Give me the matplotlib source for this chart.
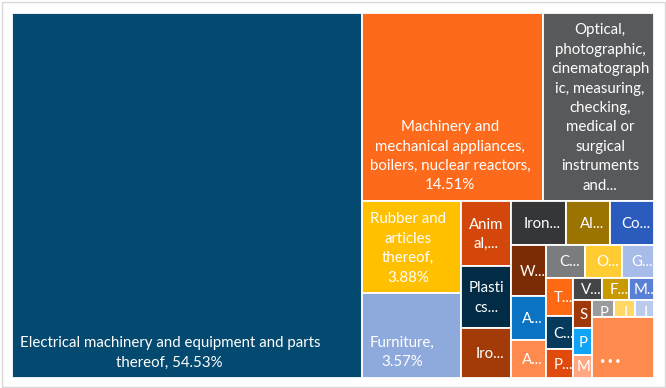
import matplotlib
matplotlib.use("Agg")
import matplotlib.pyplot as plt
from matplotlib.patches import Rectangle

plt.rcParams["font.family"] = ["Lato", "DejaVu Sans"]

# 类别（按面积降序，最后一个为其余）
labels = [
    "Electrical machinery and equipment and parts\nthereof, 54.53%",
    "Machinery and\nmechanical appliances,\nboilers, nuclear reactors,\n14.51%",
    "Optical,\nphotographic,\ncinematograph\nic, measuring,\nchecking,\nmedical or\nsurgical\ninstruments\nand...",
    "Rubber and\narticles\nthereof,\n3.88%",
    "Furniture,\n3.57%",
    "Anim\nal,...",
    "Plasti\ncs...",
    "Iro...",
    "Iron...",
    "Al...",
    "Co...",
    "W...",
    "A...",
    "A...",
    "C...",
    "O...",
    "G...",
    "T...",
    "C...",
    "P...",
    "V...",
    "F...",
    "M...",
    "S",
    "P",
    "M",
    "P",
    "I",
    "I",
    "...",
]

# 占比（%）
shares = [54.53, 14.51, 8.91, 3.88, 3.57, 1.385, 1.33, 1.06, 1.04, 0.825,
          0.82, 0.758, 0.644, 0.568, 0.548, 0.527, 0.444, 0.439, 0.381, 0.327,
          0.277, 0.260, 0.240, 0.230, 0.220, 0.190, 0.160, 0.150, 0.140, 1.60]

colors = ["#04496F", "#FE6A1B", "#58595B", "#FFC000", "#8EA9DB", "#D3480A",
          "#022B45", "#A33B09", "#353638", "#9A7300", "#2C5BBE", "#7A2C04",
          "#0A73C4", "#FE8A4E", "#7B7C7E", "#FFCD33", "#A7BCE8", "#FE6A14",
          "#053A5C", "#E04A0C", "#444547", "#C99A00", "#5A80D6", "#A0390A",
          "#12A4F4", "#FFA783", "#9A9B9D", "#FFD866", "#BACBEE", "#FE8A4E"]


def worst(row, side):
    s = sum(row)
    return max(max(side * side * r / (s * s), s * s / (side * side * r)) for r in row)


def squarify(sizes, x, y, w, h):
    rects = []
    sizes = list(sizes)
    while sizes:
        short = min(w, h)
        row = [sizes[0]]
        i = 1
        while i < len(sizes) and worst(row + [sizes[i]], short) <= worst(row, short):
            row.append(sizes[i])
            i += 1
        s = sum(row)
        if w >= h:
            cw = s / h
            yy = y
            for r in row:
                rh = r / cw
                rects.append((x, yy, cw, rh))
                yy += rh
            x += cw
            w -= cw
        else:
            rh = s / w
            xx = x
            for r in row:
                rw = r / rh
                rects.append((xx, y, rw, rh))
                xx += rw
            y += rh
            h -= rh
        sizes = sizes[i:]
    return rects


W, H = 642.5, 365.5  # 绘图区（像素）
fig = plt.figure(figsize=(6.66, 3.88), dpi=100)
ax = fig.add_axes([11.5 / 666, 1 - 378 / 388, W / 666, H / 388])
ax.set_xlim(0, W)
ax.set_ylim(H, 0)
ax.axis("off")

total = sum(shares)
sizes = [v / total * W * H for v in shares]
rects = squarify(sizes, 0, 0, W, H)

for (x, y, w, h), lab, c in zip(rects, labels, colors):
    patch = Rectangle((x, y), w, h, facecolor=c, edgecolor="white", linewidth=1.3)
    ax.add_patch(patch)
    n = lab.count("\n") + 1
    # 大块标签贴近底部，小块居中
    if h > 70:
        yc = y + h - 6 - n * 19.3 / 2
    elif h < 20:
        yc = y + h / 2 + 4
    else:
        yc = y + h / 2 + 1
    if n > 1:
        t = ax.text(x + 8, yc, lab, ha="left", va="center", multialignment="center",
                    color="white", fontsize=10.8, linespacing=1.49)
    elif lab == "...":
        t = ax.text(x + 8, y + h - 16, "• • •", ha="left", va="center",
                    color="white", fontsize=6.5)
    else:
        dx = 4 if lab.endswith("...") else 1
        t = ax.text(x + w / 2 + dx, yc, lab, ha="center", va="center",
                    color="white", fontsize=10.8)
    t.set_clip_path(patch)

# 图表外框
fig.patches.append(Rectangle((1.5 / 666, 1.5 / 388), 663 / 666, 385 / 388,
                             transform=fig.transFigure, fill=False,
                             edgecolor="#D9D9D9", linewidth=1))

fig.savefig("out.png", dpi=100)
